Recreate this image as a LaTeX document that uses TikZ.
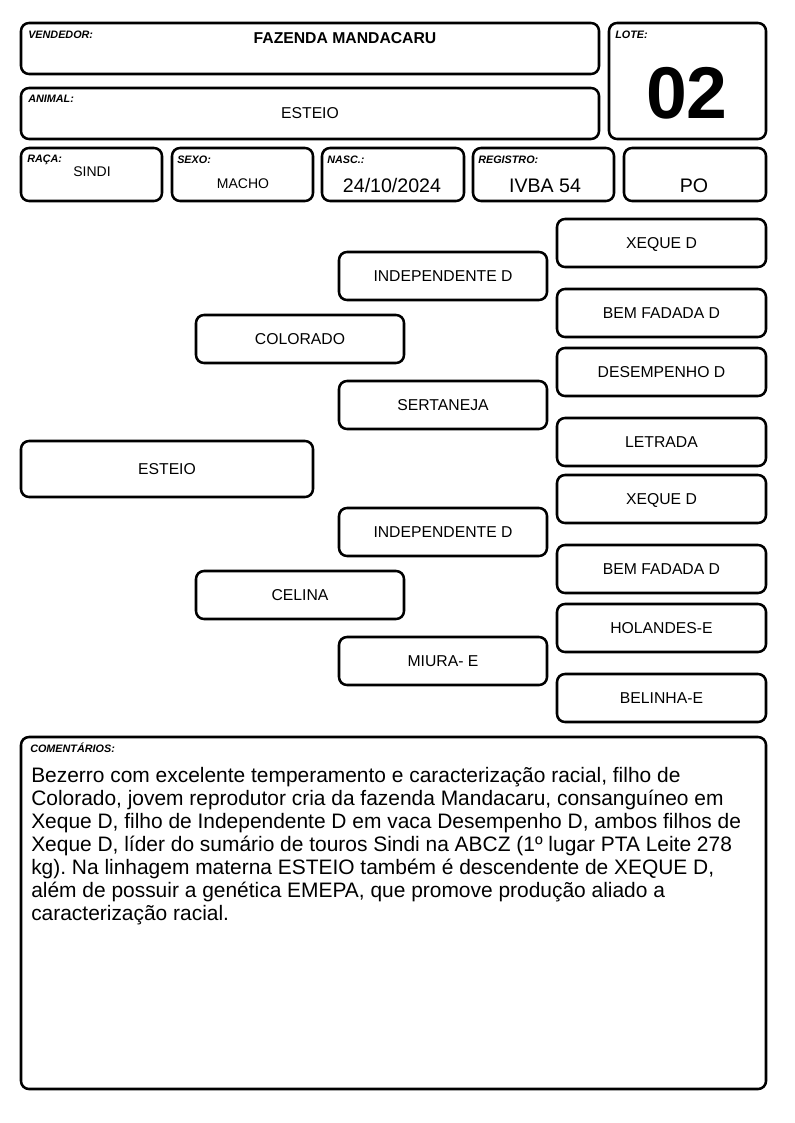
\documentclass[tikz,border=0pt]{standalone}
\usepackage{fontspec}
\setmainfont{Liberation Sans}
\usetikzlibrary{fit}
\frenchspacing
\tikzset{
  box/.style={draw, line width=1.9pt, rounded corners=6pt, inner sep=0pt},
  lab/.style={font=\fontsize{8.1}{9}\selectfont\bfseries\itshape, anchor=base west, inner sep=0pt},
  txt/.style={font=\fontsize{11.8}{13}\selectfont, inner sep=0pt, anchor=base},
  bigtxt/.style={font=\fontsize{14.7}{16}\selectfont, inner sep=0pt, anchor=base},
  smtxt/.style={font=\fontsize{10.5}{12}\selectfont, inner sep=0pt, anchor=base},
  comtxt/.style={font=\fontsize{15.7}{17.25}\selectfont, inner sep=0pt, anchor=base west},
}
\newcommand\pednode[6]{%
  \node[box, fit={(#2,#3)(#4,#5)}] (#1) {};
  \node[txt, yshift=-4.2pt] (#1t) at (#1.center) {#6};}
\begin{document}
\begin{tikzpicture}[x=0.75pt,y=-0.75pt]
\useasboundingbox (0,0) rectangle (794,1123);
% header
\node[box, fit={(21,23)(599,74)}] (vend) {};
\node[lab] (vendl) at (28,39) {VENDEDOR:};
\node[txt, font=\fontsize{11.8}{13}\selectfont\bfseries] (vendt) at (345,43.6) {FAZENDA MANDACARU};
\node[box, fit={(609,23)(766,139)}] (lote) {};
\node[lab] (lotel) at (615,39) {LOTE:};
\node[inner sep=0pt, font=\fontsize{55}{60}\selectfont\bfseries, anchor=base] (lotet) at (687,118.5) {02};
\node[box, fit={(21,88)(599,139)}] (anim) {};
\node[lab] (animl) at (28,103) {ANIMAL:};
\node[txt] (animt) at (310,118.6) {ESTEIO};
% row
\node[box, fit={(21,148)(162,201)}] (raca) {};
\node[lab] (racal) at (27,163) {RAÇA:};
\node[smtxt] (racat) at (92,177) {SINDI};
\node[box, fit={(172,148)(313,201)}] (sexo) {};
\node[lab] (sexol) at (177,164) {SEXO:};
\node[smtxt] (sexot) at (243,189) {MACHO};
\node[box, fit={(322,148)(464,201)}] (nasc) {};
\node[lab] (nascl) at (327,164) {NASC.:};
\node[bigtxt] (nasct) at (392,193) {24/10/2024};
\node[box, fit={(473,148)(614,201)}] (reg) {};
\node[lab] (regl) at (478,164) {REGISTRO:};
\node[bigtxt] (regt) at (545,193) {IVBA 54};
\node[box, fit={(624,148)(766,201)}] (po) {};
\node[bigtxt] (pot) at (694,193) {PO};
% pedigree
\pednode{animal}{21}{441}{313}{497}{ESTEIO}
\pednode{pai}{196}{315}{404}{363}{COLORADO}
\pednode{mae}{196}{571}{404}{619}{CELINA}
\pednode{pp}{339}{252}{547}{300}{INDEPENDENTE D}
\pednode{pm}{339}{381}{547}{429}{SERTANEJA}
\pednode{mp}{339}{508}{547}{556}{INDEPENDENTE D}
\pednode{mm}{339}{637}{547}{685}{MIURA- E}
\pednode{ppp}{557}{219}{766}{267}{XEQUE D}
\pednode{ppm}{557}{289}{766}{337}{BEM FADADA D}
\pednode{pmp}{557}{348}{766}{396}{DESEMPENHO D}
\pednode{pmm}{557}{418}{766}{466}{LETRADA}
\pednode{mpp}{557}{475}{766}{523}{XEQUE D}
\pednode{mpm}{557}{545}{766}{593}{BEM FADADA D}
\pednode{mmp}{557}{604}{766}{652}{HOLANDES-E}
\pednode{mmm}{557}{674}{766}{722}{BELINHA-E}
% comments
\node[box, fit={(21,737)(766,1089)}] (com) {};
\node[lab] (coml) at (30,752) {COMENTÁRIOS:};
\foreach \t [count=\i] in {%
  {Bezerro com excelente temperamento e caracterização racial, filho de},
  {Colorado, jovem reprodutor cria da fazenda Mandacaru, consanguíneo em},
  {Xeque D, filho de Independente D em vaca Desempenho D, ambos filhos de},
  {Xeque D, líder do sumário de touros Sindi na ABCZ (1º lugar PTA Leite 278},
  {kg). Na linhagem materna ESTEIO também é descendente de XEQUE D,},
  {além de possuir a genética EMEPA, que promove produção aliado a},
  {caracterização racial.}}
  \node[comtxt] (cline\i) at (31,{782+23*(\i-1)}) {\t};
\end{tikzpicture}
\end{document}
